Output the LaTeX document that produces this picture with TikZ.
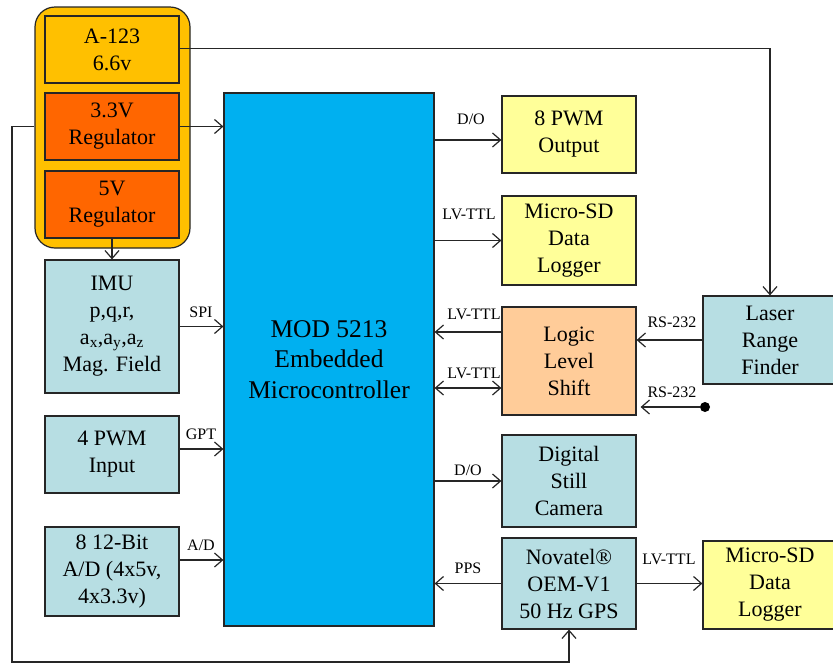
\documentclass[tikz,border=0pt]{standalone}
\usepackage{fontspec}
\setmainfont{Liberation Serif}
\usetikzlibrary{arrows.meta}

\definecolor{gold}{HTML}{FFC000}
\definecolor{regorange}{HTML}{FF6600}
\definecolor{sensorcyan}{HTML}{B7DEE3}
\definecolor{mcublue}{HTML}{00B0F0}
\definecolor{outyellow}{HTML}{FFFF99}
\definecolor{peach}{HTML}{FFCC99}

\begin{document}
\begin{tikzpicture}[x=1pt, y=-1pt,
	blk/.style={draw=black!85, line width=1.2pt, inner sep=0pt, align=center, font=\fontsize{22}{27}\selectfont},
	lbl/.style={font=\fontsize{16}{18}\selectfont, inner sep=0pt, anchor=base},
	wire/.style={line width=1.2pt, draw=black!85},
	arr/.style={wire, -{Straight Barb[length=8pt, width=14pt, line width=1.2pt]}},
	darr/.style={wire, {Straight Barb[length=8pt, width=14pt, line width=1.2pt]}-{Straight Barb[length=8pt, width=14pt, line width=1.2pt]}}]
		\useasboundingbox (0,0) rectangle (833,665);

		% power pack
		\node[draw=black!85, line width=1.2pt, fill=gold, rounded corners=20pt, minimum width=155pt, minimum height=241pt] (pack) at (112.5,127.5) {};
		\node[blk, fill=gold, minimum width=134pt, minimum height=67pt] (bat) at (112,49.5) {A-123\\6.6v};
		\node[blk, fill=regorange, minimum width=134pt, minimum height=67pt] (reg33) at (112,126.5) {3.3V\\Regulator};
		\node[blk, fill=regorange, minimum width=134pt, minimum height=67pt] (reg5) at (112,204.5) {5V\\Regulator};

		% inputs
		\node[blk, fill=sensorcyan, minimum width=134pt, minimum height=133pt] (imu) at (112,326.5) {IMU\\p,q,r,\\a\textsubscript{x},a\textsubscript{y},a\textsubscript{z}\\Mag. Field};
		\node[blk, fill=sensorcyan, minimum width=134pt, minimum height=77pt] (pwmin) at (112,454.5) {4 PWM\\Input};
		\node[blk, fill=sensorcyan, minimum width=134pt, minimum height=89pt] (adc) at (112,571.5) {8 12-Bit\\A/D (4x5v,\\4x3.3v)};

		% microcontroller
		\node[blk, fill=mcublue, minimum width=210pt, minimum height=533pt, font=\fontsize{25.5}{30.5}\selectfont] (mcu) at (329,359.5) {MOD 5213\\Embedded\\Microcontroller};

		% outputs
		\node[blk, fill=outyellow, minimum width=134pt, minimum height=77pt] (pwmout) at (569,134.5) {8 PWM\\Output};
		\node[blk, fill=outyellow, minimum width=134pt, minimum height=89pt] (sdtop) at (569,240.5) {Micro-SD\\Data\\Logger};
		\node[blk, fill=peach, minimum width=134pt, minimum height=108pt] (shift) at (569,361) {Logic\\Level\\Shift};
		\node[blk, fill=sensorcyan, minimum width=134pt, minimum height=92pt] (cam) at (569,481) {Digital\\Still\\Camera};
		\node[blk, fill=sensorcyan, minimum width=134pt, minimum height=91pt] (gps) at (569,583.5) {Novatel®\\OEM-V1\\50 Hz GPS};
		\node[blk, fill=sensorcyan, minimum width=134pt, minimum height=88pt] (laser) at (770,340) {Laser\\Range\\Finder};
		\node[blk, fill=outyellow, minimum width=134pt, minimum height=88pt] (sdbot) at (770,585) {Micro-SD\\Data\\Logger};

		\node[circle, fill=black, inner sep=0pt, minimum size=10pt] (rsin) at (705,407) {};
		\coordinate (fbcorner) at (12,662);
		\coordinate (pwminout) at ([yshift=5.5pt]pwmin.east);
		\coordinate (adcout) at ([yshift=11.5pt]adc.east);
		\coordinate (pwmoutin) at ([yshift=-5.5pt]pwmout.west);
		\coordinate (shiftout) at ([yshift=29pt]shift.west);
		\coordinate (shiftio) at ([yshift=-27pt]shift.west);

		% power lines
		\draw[arr] ([yshift=1pt]bat.east) -| (laser.north);
		\draw[arr] (reg33.east) -- (mcu.west |- reg33.east);
		\draw[arr] (reg5.south) -- (imu.north);
		\draw[arr] (pack.west |- reg33.west) -| (fbcorner) -| (gps.south);

		% inputs to mcu
		\draw[arr] (imu.east) -- (mcu.west |- imu.east);
		\draw[arr] (pwminout) -- (mcu.west |- pwminout);
		\draw[arr] (adcout) -- (mcu.west |- adcout);
		\node[lbl] (spi) at (201,317) {SPI};
		\node[lbl] (gpt) at (201,439) {GPT};
		\node[lbl] (ad) at (201,550) {A/D};

		% mcu to the right
		\draw[arr] (mcu.east |- pwmoutin) -- (pwmoutin);
		\draw[arr] (mcu.east |- sdtop.west) -- (sdtop.west);
		\draw[arr] (shiftout) -- (mcu.east |- shiftout);
		\draw[darr] (mcu.east |- shiftio) -- (shiftio);
		\draw[arr] (laser.west) -- (shift.east |- laser.west);
		\draw[arr] (rsin) -- ([xshift=4pt]shift.east |- rsin);
		\draw[arr] (mcu.east |- cam.west) -- (cam.west);
		\draw[arr] (gps.west) -- (mcu.east |- gps.west);
		\draw[arr] (gps.east) -- (sdbot.west |- gps.east);
		\node[lbl] (do1) at (471,124) {D/O};
		\node[lbl] (ttl1) at (469,219) {LV-TTL};
		\node[lbl] (ttl2) at (474,319) {LV-TTL};
		\node[lbl] (ttl3) at (474,378) {LV-TTL};
		\node[lbl] (rs1) at (672,327) {RS-232};
		\node[lbl] (rs2) at (672,397) {RS-232};
		\node[lbl] (do2) at (468,475) {D/O};
		\node[lbl] (pps) at (468,573) {PPS};
		\node[lbl] (ttl4) at (669,564) {LV-TTL};

	\end{tikzpicture}
\end{document}
